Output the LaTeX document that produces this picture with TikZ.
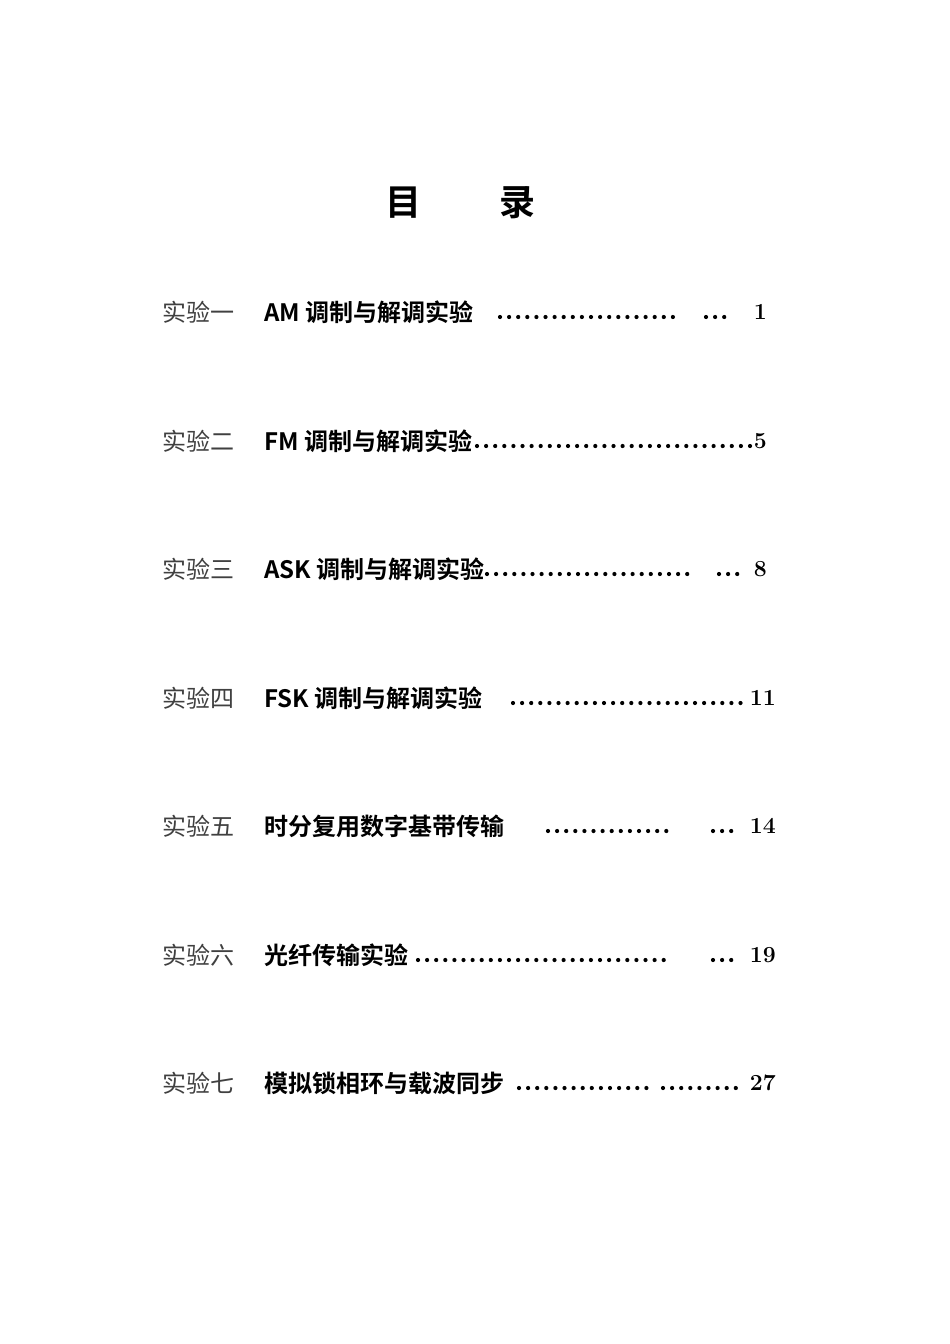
\documentclass[tikz,border=0pt]{standalone}
\usepackage{fontspec}
\newfontfamily\cjk{Noto Sans CJK SC}
\newfontfamily\cjkb{Noto Sans CJK SC Bold}
\tikzset{lbl/.style={anchor=west,inner sep=0pt,font=\cjk\fontsize{24}{24}\selectfont,text=black!75},
ttl/.style={anchor=west,inner sep=0pt,font=\cjkb\fontsize{24}{24}\selectfont},
num/.style={anchor=east,inner sep=0pt,font=\bfseries\fontsize{23}{23}\selectfont}}
\begin{document}
\begin{tikzpicture}[x=1pt,y=-1pt]
\useasboundingbox[fill=white] (0,0) rectangle (950,1344);
\node[font=\cjkb\fontsize{36}{36}\selectfont,inner sep=0pt] (t1) at (403,203) {目};
\node[font=\cjkb\fontsize{36}{36}\selectfont,inner sep=0pt] (t2) at (517,203) {录};
\newcommand\dotrow[3]{\pgfmathsetmacro\nn{int(round((#2-#1)/9.1))}\foreach \k in {0,...,\nn}{\fill (#1+\k*9.1,#3+5) circle (2.1);}}
\foreach \y/\a/\b/\n [count=\i] in {312/实验一/AM 调制与解调实验/1, 441/实验二/FM 调制与解调实验/5, 569/实验三/ASK 调制与解调实验/8, 698/实验四/FSK 调制与解调实验/11, 826/实验五/时分复用数字基带传输/14, 955/实验六/光纤传输实验/19, 1083/实验七/模拟锁相环与载波同步/27}{
\node[lbl] (l\i) at (162,\y) {\a};
\node[ttl] (m\i) at (264,\y) {\b};
\node[num] (n\i) at (\ifnum\i=1 767\else\ifnum\i=2 767\else\ifnum\i=3 767\else 776\fi\fi\fi,\y) {\n};
}
\dotrow{500}{673}{312}\dotrow{706}{724}{312}
\dotrow{477}{750}{441}
\dotrow{487}{687}{569}\dotrow{719}{737}{569}
\dotrow{513}{737}{698}
\dotrow{548}{668}{826}\dotrow{713}{732}{826}
\dotrow{418}{668}{955}\dotrow{713}{732}{955}
\dotrow{519}{643}{1083}\dotrow{663}{733}{1083}
\end{tikzpicture}
\end{document}
